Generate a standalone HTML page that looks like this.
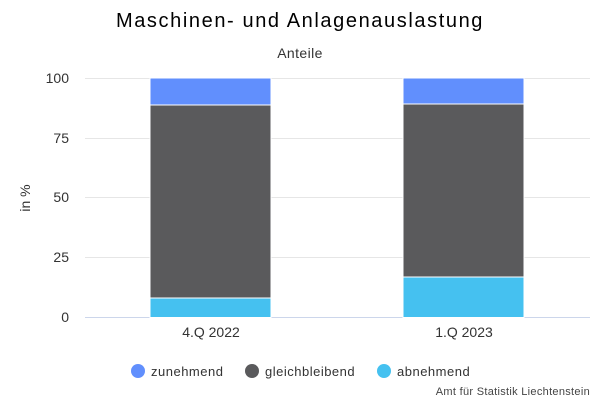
<!DOCTYPE html>
<html><head><style>body{margin:0;background:#fff}svg{display:block;font-family:"Liberation Sans",sans-serif}</style></head><body>
<svg width="600" height="400" viewBox="0 0 600 400">
<rect width="600" height="400" fill="#fff"/>
<text x="300" y="27" text-anchor="middle" font-size="20" letter-spacing="1.6" fill="#000">Maschinen- und Anlagenauslastung</text>
<text x="300" y="58" text-anchor="middle" font-size="14" letter-spacing="0.4" fill="#333">Anteile</text>
<g stroke="#e6e6e6" stroke-width="1">
<line x1="85" x2="590" y1="78.5" y2="78.5"/>
<line x1="85" x2="590" y1="138.5" y2="138.5"/>
<line x1="85" x2="590" y1="197.5" y2="197.5"/>
<line x1="85" x2="590" y1="257.5" y2="257.5"/>
</g>
<line x1="85" x2="590" y1="317.5" y2="317.5" stroke="#ccd6eb"/>
<g font-size="14" fill="#333" text-anchor="end">
<text x="69" y="83">100</text><text x="69" y="143">75</text><text x="69" y="202">50</text><text x="69" y="262">25</text><text x="69" y="322">0</text>
</g>
<text transform="translate(30,198) rotate(-90)" text-anchor="middle" font-size="14" fill="#333">in %</text>
<g stroke="#fff" stroke-width="1">
<rect x="150" y="78" width="121" height="27" fill="#618ffd"/>
<rect x="150" y="105" width="121" height="193" fill="#5a5a5c"/>
<rect x="150" y="298" width="121" height="19.5" fill="#45c1f0"/>
<rect x="403" y="78" width="121" height="26" fill="#618ffd"/>
<rect x="403" y="104" width="121" height="173" fill="#5a5a5c"/>
<rect x="403" y="277" width="121" height="40.5" fill="#45c1f0"/>
</g>
<g font-size="14" fill="#333" text-anchor="middle">
<text x="211" y="337">4.Q 2022</text><text x="464" y="337">1.Q 2023</text>
</g>
<g font-size="13" fill="#333" letter-spacing="0.5">
<circle cx="138" cy="371" r="7" fill="#618ffd"/><text x="151" y="376">zunehmend</text>
<circle cx="252" cy="371" r="7" fill="#5a5a5c"/><text x="265" y="376">gleichbleibend</text>
<circle cx="384" cy="371" r="7" fill="#45c1f0"/><text x="397" y="376">abnehmend</text>
</g>
<text x="590" y="395" text-anchor="end" font-size="11" letter-spacing="0.3" fill="#444">Amt für Statistik Liechtenstein</text>
</svg>
</body></html>
